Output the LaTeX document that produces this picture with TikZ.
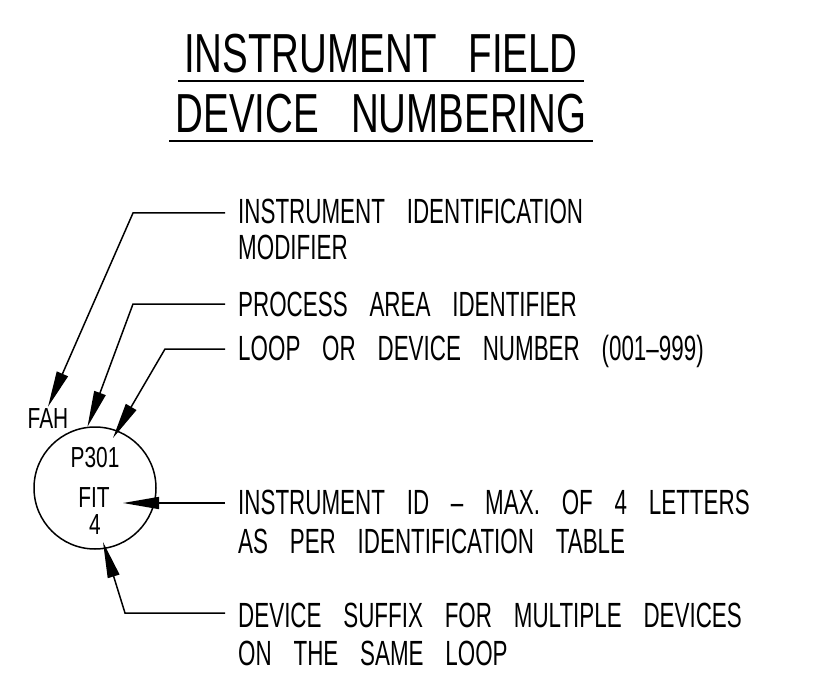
\documentclass[tikz,border=0pt]{standalone}
\usepackage{fontspec}
\newfontfamily\cadfont[FakeStretch=0.64,WordSpace=3.5]{Liberation Sans}
\newfontfamily\cadtitlefont[FakeStretch=0.70,WordSpace=3]{Liberation Sans}
\newfontfamily\cadtagfont[FakeStretch=0.72]{Liberation Sans}
\usetikzlibrary{arrows.meta}

\tikzset{
  ttl/.style={font=\cadtitlefont\fontsize{55}{60}\selectfont, text height=38pt, text depth=0pt, inner xsep=6pt, inner ysep=8pt},
  lbl/.style={anchor=west, font=\cadfont\fontsize{35}{40}\selectfont, text height=24pt, text depth=0pt, inner xsep=13pt, inner ysep=0pt},
  tag/.style={font=\cadtagfont\fontsize{29}{32}\selectfont, text height=20pt, text depth=0pt, inner sep=1pt},
  lead/.style={line width=1.5pt, -{Triangle[length=36pt,width=12pt]}},
}

\begin{document}
\begin{tikzpicture}[x=1pt,y=-1pt]
\useasboundingbox (0,0) rectangle (828,698);

%title
\node[ttl] (ttl1) at (381,54) {INSTRUMENT FIELD};
\node[ttl] (ttl2) at (381,114) {DEVICE NUMBERING};
\draw[line width=1.5pt] (ttl1.south west) -- (ttl1.south east);
\draw[line width=1.5pt] (ttl2.south west) -- (ttl2.south east);

%bubble
\node[draw, circle, line width=1.5pt, minimum size=122pt, inner sep=0pt] (inst) at (95,488) {};
\node[tag] (fah) at (48,418) {FAH};
\node[tag] (loopno) at (95,457) {P301};
\node[tag] (fit) at (94,497) {FIT};
\node[tag] (sfx) at (95,524) {4};

%labels
\node[lbl] (mod1) at (225,211) {INSTRUMENT IDENTIFICATION};
\node[lbl] (mod2) at (225,247) {MODIFIER};
\node[lbl] (area) at (225,304) {PROCESS AREA IDENTIFIER};
\node[lbl] (loop) at (225,348) {LOOP OR DEVICE NUMBER (001–999)};
\node[lbl] (id1) at (225,502) {INSTRUMENT ID – MAX. OF 4 LETTERS};
\node[lbl] (id2) at (225,541) {AS PER IDENTIFICATION TABLE};
\node[lbl] (suf1) at (225,615) {DEVICE SUFFIX FOR MULTIPLE DEVICES};
\node[lbl] (suf2) at (225,653) {ON THE SAME LOOP};

%bends and tips
\coordinate (k1) at (133,213);
\coordinate (k2) at (133,304);
\coordinate (k3) at (165,349);
\coordinate (t3) at (113,438);
\coordinate (t4) at (123,503);
\coordinate (k5) at (125,613);
\coordinate (t5) at (103,542);

%leaders
\draw[lead] (mod1.west |- k1) -- (k1) -- (fah.north);
\draw[lead] (area.west) -- (k2) -- (inst.97);
\draw[lead] (loop.west |- k3) -- (k3) -- (t3);
\draw[lead] (id1.west |- t4) -- (t4);
\draw[lead] (suf1.west |- k5) -- (k5) -- (t5);
\end{tikzpicture}
\end{document}
